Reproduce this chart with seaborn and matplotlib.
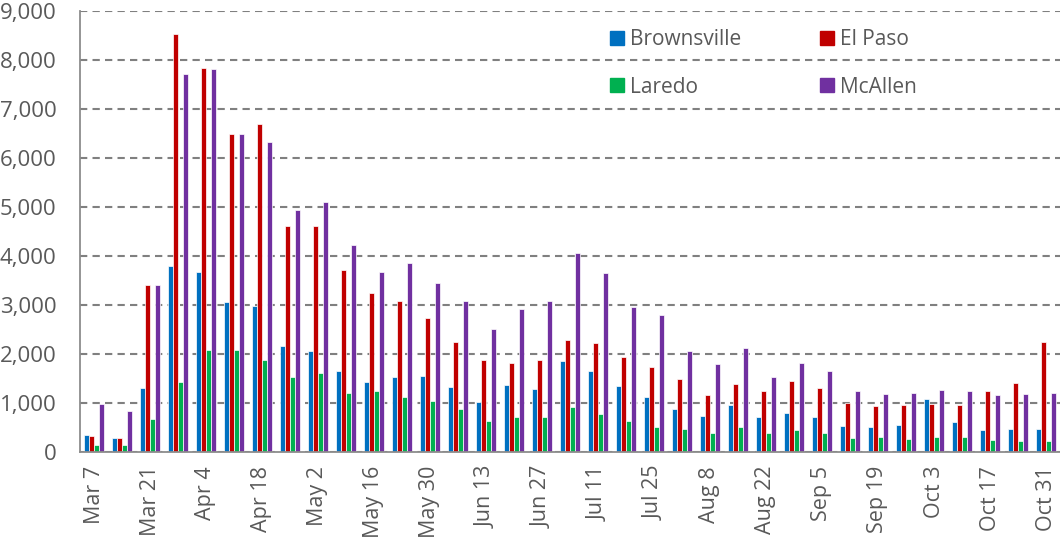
import matplotlib
matplotlib.use("Agg")
import matplotlib.pyplot as plt
from matplotlib.lines import Line2D
from matplotlib.ticker import FuncFormatter, FixedLocator
import seaborn as sns
import pandas as pd

weeks = ["Mar 7", "Mar 14", "Mar 21", "Mar 28", "Apr 4", "Apr 11", "Apr 18", "Apr 25",
         "May 2", "May 9", "May 16", "May 23", "May 30", "Jun 6", "Jun 13", "Jun 20",
         "Jun 27", "Jul 4", "Jul 11", "Jul 18", "Jul 25", "Aug 1", "Aug 8", "Aug 15",
         "Aug 22", "Aug 29", "Sep 5", "Sep 12", "Sep 19", "Sep 26", "Oct 3", "Oct 10",
         "Oct 17", "Oct 24", "Oct 31"]

brownsville = [347, 279, 1299, 3789, 3667, 3068, 2986, 2170, 2061, 1655, 1429, 1524,
               1551, 1333, 1020, 1361, 1279, 1864, 1660, 1347, 1116, 871, 735, 952,
               721, 789, 721, 531, 517, 544, 1075, 612, 449, 476, 463]
el_paso = [333, 292, 3408, 8524, 7844, 6497, 6701, 4619, 4605, 3710, 3252, 3088,
           2735, 2245, 1878, 1810, 1878, 2286, 2231, 1946, 1728, 1483, 1170, 1388,
           1238, 1442, 1306, 993, 939, 966, 980, 966, 1252, 1415, 2245]
laredo = [136, 150, 673, 1435, 2075, 2075, 1871, 1531, 1612, 1207, 1238, 1129,
          1048, 884, 639, 707, 707, 925, 776, 639, 517, 476, 395, 503,
          395, 449, 395, 286, 299, 259, 313, 313, 245, 231, 231]
mcallen = [986, 837, 3408, 7707, 7816, 6483, 6333, 4932, 5095, 4228, 3673, 3864,
           3442, 3075, 2517, 2925, 3075, 4054, 3660, 2952, 2803, 2054, 1796, 2122,
           1524, 1823, 1646, 1238, 1184, 1197, 1265, 1238, 1170, 1184, 1211]

series = ["Brownsville", "El Paso", "Laredo", "McAllen"]
colors = ["#0070C0", "#C00000", "#00B050", "#7030A0"]

rows = []
for name, vals in zip(series, [brownsville, el_paso, laredo, mcallen]):
    for w, v in zip(weeks, vals):
        rows.append({"week": w, "city": name, "value": v})
df = pd.DataFrame(rows)

sns.set_style("white")
plt.rcParams["font.family"] = ["Open Sans", "DejaVu Sans"]

fig = plt.figure(figsize=(10.6, 5.37), dpi=100)
ax = fig.add_axes([80 / 1060, (537 - 452) / 537, 980 / 1060, 441 / 537])

sns.barplot(data=df, x="week", y="value", hue="city", order=weeks, hue_order=series,
            palette=colors, width=0.74, edgecolor="white", linewidth=0.5,
            saturation=1, legend=False, ax=ax, errorbar=None)

ax.set_xlim(-0.5, len(weeks) - 0.5)
ax.set_ylim(0, 9000)
ax.set_yticks(range(0, 9001, 1000))
ax.yaxis.set_major_formatter(FuncFormatter(lambda v, p: f"{int(v):,}"))
ax.grid(axis="y", color="#808080", linestyle=(0, (3.5, 2.5)), linewidth=1.5)
ax.set_axisbelow(True)

ax.set_xticks(range(len(weeks)))
ax.set_xticklabels([w if i % 2 == 0 else "" for i, w in enumerate(weeks)],
                   rotation=90, ha="center", va="top")
ax.xaxis.set_minor_locator(FixedLocator([i - 0.5 for i in range(len(weeks) + 1)]))
ax.tick_params(axis="x", which="major", length=0, pad=10, labelsize=15.5, labelcolor="#595959")
ax.tick_params(axis="x", which="minor", length=5, width=1.3, color="#8c8c8c", direction="out")
ax.tick_params(axis="y", length=11.5, width=1.3, color="#8c8c8c", labelsize=16,
               labelcolor="#595959", pad=11, direction="inout")
ax.set_xlabel("")
ax.set_ylabel("")

for s in ["top", "right"]:
    ax.spines[s].set_visible(False)
for s in ["left", "bottom"]:
    ax.spines[s].set_color("#8c8c8c")
    ax.spines[s].set_linewidth(1.3)

handles = [Line2D([0], [0], marker="s", linestyle="none", markersize=10,
                  markerfacecolor=c, markeredgecolor=c) for c in colors]
order = [0, 2, 1, 3]
leg = ax.legend([handles[i] for i in order], [series[i] for i in order], ncol=2,
                frameon=False, loc="upper left", bbox_to_anchor=(0.52, 1.002),
                fontsize=15, handletextpad=0.25, columnspacing=3.7,
                labelspacing=1.29, handlelength=0.8)
for t in leg.get_texts():
    t.set_color("#595959")

fig.savefig("out.png", dpi=100)
